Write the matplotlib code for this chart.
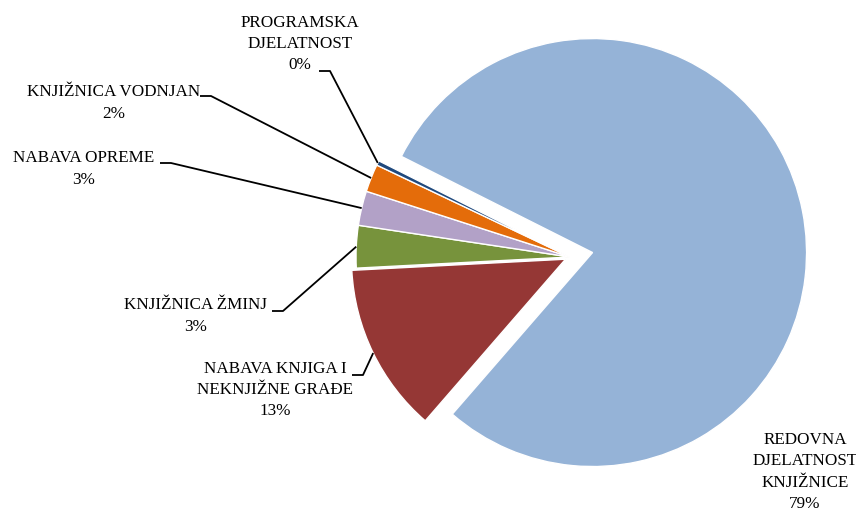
import numpy as np
import matplotlib
matplotlib.use("Agg")
from matplotlib import pyplot as plt

labels = ["REDOVNA\nDJELATNOST\nKNJIŽNICE", "NABAVA KNJIGA I\nNEKNJIŽNE GRAĐE",
          "KNJIŽNICA ŽMINJ", "NABAVA OPREME", "KNJIŽNICA VODNJAN",
          "PROGRAMSKA\nDJELATNOST"]
values = [79.0, 12.8, 3.2, 2.6, 2.1, 0.35]
colors = ["#95B3D7", "#953735", "#77933C", "#B2A1C7", "#E46C0A", "#1F497D"]
# pie explode is in data units here (pixels), not fractions of the radius
explode = [23, 5, 0, 0, 0, 0]

# label block centre (pixels) and where the leader line meets the text
text_pos = [(805, 472), (275, 390), (196, 316), (84, 169), (114, 103), (300, 44)]
leader_start = [None, (352, 375), (272, 311), (160, 163), (200, 96), (319, 71)]

W, H = 856, 512
fig = plt.figure(figsize=(W / 100, H / 100), dpi=100)
ax = fig.add_axes([0, 0, 1, 1])
ax.set_xlim(0, W)
ax.set_ylim(0, H)
ax.set_aspect("equal")
ax.axis("off")

cx, cy, r = 570, H - 257, 214
wedges, _ = ax.pie(values, colors=colors, explode=explode, startangle=153.3,
                   counterclock=False, center=(cx, cy), radius=r,
                   wedgeprops=dict(edgecolor="white", linewidth=1))
ax.set_xlim(0, W)
ax.set_ylim(0, H)

total = sum(values)
for i, w in enumerate(wedges):
    pct = "%d%%" % round(values[i] / total * 100)
    tx, ty = text_pos[i]
    ax.text(tx, H - ty, labels[i] + "\n" + pct, ha="center", va="center",
            family="Liberation Serif", fontsize=12.3, linespacing=1.45,
            color="black")
    if leader_start[i] is None:
        continue
    ang = np.deg2rad((w.theta1 + w.theta2) / 2)
    wx, wy = w.center
    ex, ey = wx + w.r * np.cos(ang), wy + w.r * np.sin(ang)
    sx, sy = leader_start[i]
    ax.plot([sx, sx + 11, ex], [H - sy, H - sy, ey], color="black", lw=1.3,
            solid_capstyle="butt")

fig.savefig("out.png", dpi=100)
